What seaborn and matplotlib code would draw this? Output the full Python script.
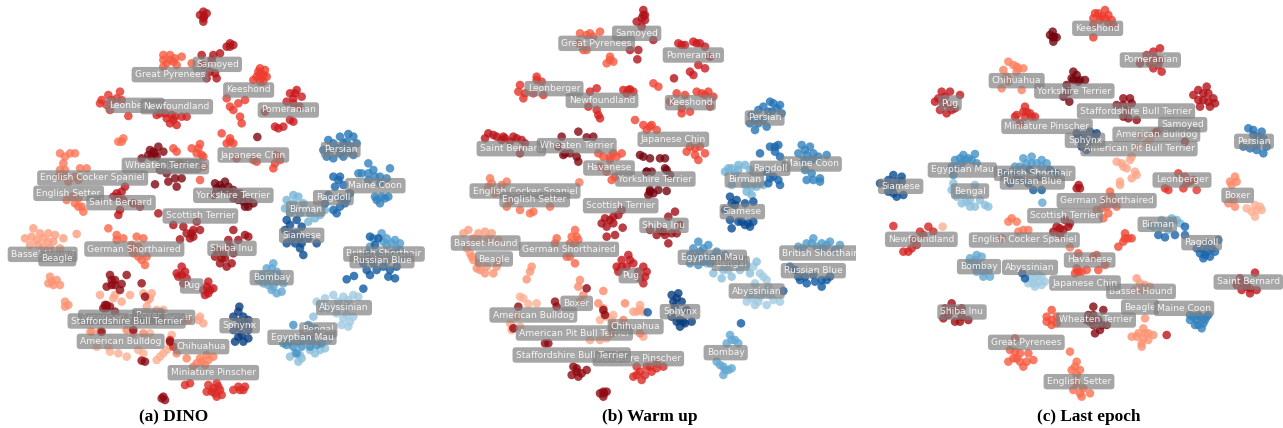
#!/usr/bin/env python3
"""t-SNE maps of the pet breeds for DINO, warm up and the last epoch."""

import matplotlib.pyplot as plt
import pandas as pd
import seaborn as sns

CATS = ["Abyssinian", "Bengal", "Birman", "Bombay", "British Shorthair", "Egyptian Mau",
        "Maine Coon", "Persian", "Ragdoll", "Russian Blue", "Siamese", "Sphynx"]
DOGS = ["American Bulldog", "American Pit Bull Terrier", "Basset Hound", "Beagle", "Boxer",
        "Chihuahua", "English Cocker Spaniel", "English Setter", "German Shorthaired",
        "Great Pyrenees", "Havanese", "Japanese Chin", "Keeshond", "Leonberger",
        "Miniature Pinscher", "Newfoundland", "Pomeranian", "Pug", "Saint Bernard", "Samoyed",
        "Scottish Terrier", "Shiba Inu", "Staffordshire Bull Terrier", "Wheaten Terrier",
        "Yorkshire Terrier"]
BREEDS = sorted(CATS + DOGS)
CAPTIONS = ["(a) DINO", "(b) Warm up", "(c) Last epoch"]

# label centres, same order as BREEDS
A_LABEL_X = [1032, 362, 410, 128, 172, 955, 917, 815, 445, 1152, 604, 906, 278, 206, 403, 510, 550, 760, 746,
             405, 1126, 640, 530, 1022, 865, 575, 1000, 1146, 363, 652, 601, 696, 905, 719, 380, 485, 700]
A_LABEL_Y = [923, 1024, 952, 763, 776, 990, 627, 833, 947, 762, 1040, 1012, 534, 580, 747, 224, 500, 465, 270,
             316, 557, 1118, 320, 449, 330, 858, 593, 782, 608, 193, 648, 745, 706, 977, 963, 496, 586]
B_LABEL_X = [980, 310, 433, 167, 192, 902, 943, 887, 440, 1170, 617, 847, 285, 314, 417, 500, 537, 730, 781,
             372, 1145, 625, 516, 1004, 790, 601, 1020, 1150, 244, 620, 572, 702, 937, 750, 425, 440, 676]
B_LABEL_Y = [873, 945, 999, 729, 777, 790, 540, 1058, 910, 759, 980, 772, 573, 599, 748, 130, 504, 418, 308,
             266, 492, 1076, 301, 354, 165, 827, 505, 812, 446, 100, 617, 676, 635, 935, 1065, 437, 537]
C_LABEL_X = [510, 889, 837, 843, 840, 330, 892, 357, 1133, 524, 470, 307, 493, 657, 740, 499, 689, 675, 713,
             966, 972, 561, 184, 1182, 871, 270, 1025, 517, 1165, 968, 615, 306, 122, 675, 828, 708, 643]
C_LABEL_Y = [802, 403, 446, 874, 921, 573, 673, 800, 586, 520, 242, 510, 720, 1145, 602, 1027, 780, 849, 85,
             540, 925, 379, 718, 424, 180, 309, 728, 546, 846, 374, 647, 936, 559, 421, 333, 960, 273]

# embedding values, panel (a)
A_ABYSSINIAN = [(950, 905), (975, 895), (1000, 885), (1030, 890), (1060, 885), (1075, 890), (1010, 940), (1030, 955), (1050, 965), (1060, 950), (1025, 975), (1045, 980), (985, 925), (1040, 920), (1015, 905), (1045, 900), (965, 925), (1040, 945)]
A_BENGAL = [(870, 1070), (895, 1085), (900, 1065), (930, 1050), (960, 1050), (975, 1045), (985, 1020), (940, 950), (905, 1075), (885, 1060), (945, 1060)]
A_EGYPTIAN_MAU = [(860, 1035), (880, 1040), (905, 1040), (930, 1040), (950, 1035), (890, 1060), (850, 1030), (915, 1020), (945, 985), (925, 975), (880, 975), (870, 1025), (895, 1025), (935, 1020), (965, 1030)]
A_BOMBAY = [(820, 790), (800, 805), (830, 815), (785, 825), (810, 830), (840, 830), (790, 850), (820, 860), (845, 875), (815, 870), (830, 880), (850, 850), (775, 840), (815, 805), (800, 840), (830, 845), (805, 855)]
A_BIRMAN = [(880, 585), (860, 600), (895, 590), (910, 610), (855, 625), (870, 640), (900, 640), (925, 665), (945, 655), (960, 645), (930, 640), (975, 630), (880, 610), (880, 630)]
A_SIAMESE = [(860, 660), (870, 675), (890, 660), (905, 680), (860, 730), (885, 730), (900, 745), (910, 765), (950, 730), (925, 715), (890, 700), (855, 690), (875, 700), (900, 715), (875, 715), (905, 730)]
A_RAGDOLL = [(1000, 530), (1020, 530), (1005, 560), (1030, 555), (985, 585), (1020, 620), (1000, 630), (1040, 600), (1010, 640), (975, 610), (1050, 580), (1035, 610), (1020, 595), (1015, 540)]
A_MAINE_COON = [(1105, 490), (1085, 520), (1120, 510), (1140, 530), (1170, 505), (1160, 535), (1105, 540), (1140, 550), (1075, 520), (1130, 600), (1155, 595), (1165, 590), (1140, 610), (1125, 590), (1105, 520), (1125, 530), (1145, 590)]
A_PERSIAN = [(1020, 410), (1045, 402), (985, 420), (1000, 430), (1030, 430), (1060, 410), (1040, 425), (980, 470), (1000, 475), (1030, 470), (1060, 465), (1070, 430), (1015, 445), (970, 450), (1045, 455), (990, 450), (1020, 460), (1050, 440)]
A_BRITISH_SHORTHAIR = [(1145, 700), (1160, 715), (1185, 720), (1200, 730), (1160, 735), (1120, 715), (1190, 745), (1175, 760), (1110, 740), (1140, 760), (1175, 730), (1150, 725), (1200, 750), (1160, 785)]
A_RUSSIAN_BLUE = [(1110, 710), (1125, 735), (1105, 760), (1090, 790), (1110, 825), (1130, 810), (1165, 830), (1185, 835), (1190, 800), (1100, 810), (1040, 838), (1062, 828), (1090, 866), (1150, 800), (1120, 790), (1170, 810), (1135, 715)]
A_SPHYNX = [(718, 920), (715, 935), (700, 950), (730, 950), (715, 965), (745, 960), (700, 990), (725, 1005), (745, 1015), (730, 1025), (705, 1025), (745, 990), (720, 985), (735, 970), (715, 1010)]
A_CHIHUAHUA = [(530, 1060), (560, 1075), (600, 1075), (620, 1065), (590, 1090), (615, 1095), (640, 1070), (580, 1100), (605, 1085), (625, 1080)]
A_MINIATURE_PINSCHER = [(625, 1155), (650, 1150), (635, 1175), (660, 1170), (620, 1175), (665, 1185), (650, 1190), (715, 1160), (730, 1170), (700, 1170), (735, 1160), (640, 1165), (555, 1155), (570, 1150), (510, 1020), (520, 1040), (645, 1180), (655, 1160), (720, 1170)]
A_PUG = [(545, 800), (555, 815), (535, 830), (560, 835), (530, 820), (550, 850), (620, 860), (625, 880), (640, 865), (610, 870), (625, 845), (615, 885), (545, 825), (630, 870)]
A_SHIBA_INU = [(700, 690), (735, 705), (715, 720), (690, 740), (700, 760), (670, 760), (645, 770), (660, 790), (680, 800), (695, 790), (745, 710), (675, 775), (650, 750), (665, 775), (685, 720)]
A_SCOTTISH_TERRIER = [(475, 640), (520, 675), (550, 680), (580, 690), (570, 715), (540, 718), (590, 665), (560, 700), (580, 710), (600, 690), (575, 700)]
A_SAINT_BERNARD = [(350, 580), (365, 575), (370, 600), (340, 590), (355, 645), (360, 630), (400, 610), (420, 620), (375, 560), (355, 590)]
A_ENGLISH_SETTER = [(200, 600), (225, 610), (245, 620), (250, 635), (215, 590), (235, 595), (365, 425), (355, 425), (370, 415), (235, 620)]
A_ENGLISH_COCKER_SPANIEL = [(180, 460), (210, 460), (190, 490), (240, 505), (180, 510), (260, 505), (225, 460), (175, 530), (205, 545), (225, 530), (195, 470), (235, 540), (195, 510), (190, 525)]
A_BASSET_HOUND = [(100, 685), (75, 715), (120, 700), (145, 700), (110, 720), (160, 725), (130, 740), (190, 715), (230, 702), (90, 735), (150, 745), (180, 745), (165, 705), (130, 715), (95, 710), (145, 725), (115, 735)]
A_BEAGLE = [(150, 830), (160, 855), (180, 855), (145, 850), (170, 840), (195, 905), (205, 915), (195, 920), (155, 845)]
A_GERMAN_SHORTHAIRED = [(350, 705), (350, 720), (325, 685), (410, 710), (430, 715), (395, 735), (415, 770), (440, 770), (400, 760), (435, 795), (425, 780), (370, 715), (415, 740), (395, 750)]
A_GREAT_PYRENEES = [(490, 165), (510, 165), (525, 175), (500, 190), (530, 195), (520, 185), (575, 190), (490, 200), (545, 170), (510, 180), (490, 180)]
A_SAMOYED = [(610, 35), (612, 50), (600, 45), (620, 40), (610, 65), (690, 130), (680, 140), (700, 135), (605, 165), (640, 165), (660, 160), (635, 180), (610, 195), (645, 220), (620, 235), (650, 235), (690, 140), (610, 55), (630, 215)]
A_KEESHOND = [(780, 205), (790, 225), (770, 230), (800, 230), (780, 245), (760, 240), (795, 210), (680, 295), (690, 320), (715, 310), (735, 300), (700, 330), (720, 350), (725, 370), (780, 225), (775, 215), (790, 245)]
A_POMERANIAN = [(890, 270), (870, 280), (905, 290), (880, 295), (860, 305), (900, 320), (880, 365), (870, 360), (835, 385), (825, 380), (850, 380), (795, 335), (885, 280), (880, 310)]
A_LEONBERGER = [(305, 300), (325, 285), (360, 275), (300, 310), (335, 300), (365, 300), (330, 330), (385, 348), (350, 295), (320, 315)]
A_NEWFOUNDLAND = [(470, 345), (500, 355), (520, 360), (545, 350), (530, 375), (510, 370), (560, 350), (480, 340), (515, 345), (495, 340), (525, 350)]
A_JAPANESE_CHIN = [(665, 400), (690, 425), (700, 430), (680, 430), (770, 485), (830, 465), (820, 505), (840, 480), (710, 475), (760, 480), (825, 490), (690, 415)]
A_HAVANESE = [(520, 445), (600, 432), (605, 465), (590, 460), (575, 445), (610, 470), (540, 490), (610, 500), (600, 540), (530, 455), (595, 445)]
A_WHEATEN_TERRIER = [(460, 455), (475, 440), (445, 465), (490, 455), (470, 470), (425, 475), (455, 470), (500, 520), (525, 535), (545, 535), (505, 545), (530, 560), (465, 553), (480, 510), (772, 411), (465, 460), (450, 450)]
A_YORKSHIRE_TERRIER = [(660, 555), (645, 550), (675, 545), (685, 560), (650, 565), (700, 570), (720, 580), (745, 600), (760, 610), (735, 620), (700, 595), (670, 570), (745, 620), (715, 600), (690, 575), (640, 585), (665, 565), (730, 605)]
A_STAFFORDSHIRE_BULL_TERRIER = [(330, 825), (345, 840), (320, 860), (365, 852), (335, 855), (360, 870), (315, 915), (330, 920), (310, 925), (380, 825), (320, 925), (425, 850), (435, 890), (345, 935), (490, 1190), (495, 1200), (485, 1195), (435, 1085), (425, 1082), (510, 1025), (400, 990), (305, 995), (335, 840), (320, 915), (345, 855)]
A_AMERICAN_BULLDOG = [(270, 995), (330, 1055), (355, 1060), (380, 1070), (290, 1040), (430, 1060), (470, 1080), (490, 1060), (510, 1040), (515, 1005), (450, 1000), (415, 1050), (480, 1070), (500, 1050), (325, 1040)]
A_AMERICAN_PIT_BULL_TERRIER = [(430, 880), (455, 880), (445, 900), (440, 920), (470, 930), (490, 930), (600, 950), (610, 970), (595, 960), (345, 885), (390, 885), (365, 905), (340, 895), (300, 885), (450, 895), (480, 945)]
A_BOXER = [(425, 960), (470, 960), (380, 990), (400, 1000), (300, 995), (275, 995), (430, 1000), (565, 960)]

# panel (b)
B_ABYSSINIAN = [(970, 800), (990, 820), (975, 850), (1010, 840), (1015, 860), (960, 880), (985, 905), (1010, 915), (1030, 900), (950, 905), (975, 915), (1000, 880), (1050, 905), (990, 890), (1020, 885), (965, 895), (1000, 830)]
B_BENGAL = [(850, 820), (875, 835), (905, 830), (880, 810), (930, 810), (950, 795), (980, 785), (830, 790), (960, 820), (920, 790), (895, 810)]
B_EGYPTIAN_MAU = [(805, 725), (790, 745), (820, 745), (835, 735), (800, 770), (780, 790), (805, 795), (840, 790), (860, 755), (885, 765), (780, 765), (830, 770), (810, 755), (820, 785), (850, 770)]
B_BIRMAN = [(895, 505), (925, 495), (945, 495), (885, 515), (915, 520), (960, 510), (980, 560), (950, 575), (965, 585), (1000, 555), (945, 555), (905, 555), (905, 505), (965, 560), (925, 510)]
B_RAGDOLL = [(1020, 440), (1045, 435), (990, 460), (1035, 455), (1050, 470), (1010, 515), (1045, 540), (1030, 530), (1050, 555), (1015, 550), (1035, 440), (1020, 535)]
B_MAINE_COON = [(1115, 435), (1140, 440), (1105, 460), (1130, 465), (1165, 470), (1190, 465), (1145, 480), (1130, 540), (1150, 540), (1170, 535), (1145, 520), (1170, 545), (1125, 510), (1125, 450), (1150, 460), (1120, 480)]
B_PERSIAN = [(1020, 305), (1000, 320), (1040, 325), (1055, 340), (985, 330), (1015, 335), (1050, 315), (960, 370), (975, 390), (985, 370), (1010, 380), (965, 345), (1030, 310), (1025, 335), (975, 360), (1000, 360)]
B_SIAMESE = [(900, 590), (920, 600), (905, 610), (970, 605), (945, 610), (900, 660), (925, 665), (960, 680), (905, 685), (945, 675), (970, 665), (885, 630), (915, 615), (935, 665), (955, 670)]
B_BOMBAY = [(900, 1005), (915, 1020), (925, 1030), (890, 1030), (860, 1085), (880, 1100), (895, 1110), (905, 1105), (880, 1125), (870, 1095), (905, 1020), (885, 1110)]
B_BRITISH_SHORTHAIR = [(1150, 715), (1130, 730), (1175, 730), (1200, 725), (1230, 735), (1105, 740), (1160, 740), (1215, 750), (1190, 735), (1145, 730), (1180, 745), (1120, 745)]
B_RUSSIAN_BLUE = [(1095, 810), (1110, 840), (1130, 850), (1155, 845), (1175, 860), (1200, 830), (1080, 800), (1175, 840), (1125, 830), (933, 970), (1060, 873), (653, 937), (1105, 830), (1190, 840), (1150, 825)]
B_SPHYNX = [(725, 885), (745, 880), (730, 905), (755, 905), (735, 920), (750, 960), (725, 950), (765, 970), (785, 965), (750, 980), (770, 930), (740, 895), (760, 965), (740, 965)]
B_PUG = [(595, 765), (575, 780), (610, 790), (560, 800), (590, 800), (640, 800), (650, 815), (630, 835), (645, 830), (565, 815), (640, 850), (600, 780), (625, 815), (575, 800)]
B_SHIBA_INU = [(735, 635), (715, 650), (750, 675), (660, 690), (700, 695), (725, 700), (680, 705), (715, 730), (690, 690), (740, 700), (705, 705)]
B_SCOTTISH_TERRIER = [(525, 655), (550, 650), (575, 630), (515, 670), (550, 670), (530, 680), (578, 683), (555, 705), (530, 710), (540, 660), (565, 645)]
B_YORKSHIRE_TERRIER = [(705, 505), (630, 465), (640, 470), (660, 475), (690, 475), (705, 475), (650, 515), (710, 510), (660, 570), (670, 580), (685, 570), (710, 573), (655, 585), (720, 525), (660, 575), (650, 515), (665, 515)]
B_WHEATEN_TERRIER = [(395, 410), (445, 395), (385, 440), (400, 465), (445, 485), (470, 412), (490, 410), (420, 460), (440, 470), (405, 460)]
B_HAVANESE = [(540, 470), (560, 470), (520, 470), (575, 460), (510, 500), (545, 540), (540, 480), (505, 460), (530, 515), (555, 530), (550, 460)]
B_JAPANESE_CHIN = [(615, 360), (640, 375), (665, 375), (680, 390), (650, 390), (770, 455), (795, 465), (810, 440), (780, 440), (825, 460), (805, 480), (670, 250), (685, 260), (660, 380), (795, 445)]
B_KEESHOND = [(740, 280), (765, 285), (815, 280), (835, 275), (850, 290), (720, 305), (755, 340), (780, 335), (840, 320), (800, 275), (825, 285), (755, 325)]
B_POMERANIAN = [(745, 130), (765, 135), (790, 125), (810, 130), (825, 140), (780, 215), (790, 225), (805, 195), (825, 205), (840, 170), (755, 135), (800, 130)]
B_LEONBERGER = [(320, 230), (270, 255), (285, 280), (265, 275), (335, 245), (310, 280), (340, 285), (280, 295), (320, 240)]
B_NEWFOUNDLAND = [(500, 265), (480, 275), (580, 270), (600, 268), (610, 275), (590, 280), (505, 345), (510, 355), (475, 320), (500, 330), (595, 270)]
B_GREAT_PYRENEES = [(450, 100), (480, 100), (510, 95), (445, 130), (470, 150), (540, 170), (530, 190), (550, 185), (490, 110), (460, 150), (540, 180), (470, 105)]
B_SAMOYED = [(640, 30), (645, 45), (635, 55), (645, 60), (620, 65), (600, 150), (625, 150), (670, 120), (622, 178), (635, 80), (732, 235), (640, 45)]
B_SAINT_BERNARD = [(175, 400), (165, 415), (200, 410), (225, 415), (250, 410), (275, 420), (285, 430), (190, 405), (240, 425), (270, 460), (220, 410), (215, 420), (260, 415)]
B_ENGLISH_COCKER_SPANIEL = [(180, 535), (185, 550), (215, 555), (195, 580), (448, 547), (175, 560), (230, 545)]
B_ENGLISH_SETTER = [(230, 620), (270, 630), (310, 635), (360, 620), (300, 640), (240, 605)]
B_GERMAN_SHORTHAIRED = [(435, 690), (440, 710), (380, 715), (420, 730), (410, 770), (435, 790), (375, 730), (425, 710), (445, 720), (420, 770), (435, 730)]
B_BASSET_HOUND = [(115, 690), (100, 700), (165, 695), (130, 715), (175, 715), (145, 700), (205, 720), (120, 760), (110, 745), (150, 720), (185, 700)]
B_BEAGLE = [(130, 780), (150, 810), (200, 800), (165, 820), (190, 820), (125, 770), (145, 790), (205, 785), (305, 800), (300, 815), (290, 838), (140, 805), (170, 800)]
B_BOXER = [(450, 840), (445, 860), (460, 885), (450, 905), (505, 910), (520, 925), (520, 873), (585, 910)]
B_AMERICAN_BULLDOG = [(270, 890), (280, 895), (295, 912), (320, 910), (245, 975), (260, 950), (240, 970), (510, 960), (530, 950), (550, 945), (545, 960), (520, 935)]
B_AMERICAN_PIT_BULL_TERRIER = [(245, 990), (270, 980), (530, 1015), (510, 1020), (640, 1010), (480, 1020), (630, 915), (620, 935), (640, 935), (610, 935), (630, 930)]
B_STAFFORDSHIRE_BULL_TERRIER = [(265, 920), (250, 985), (345, 1030), (355, 1030), (440, 1105), (425, 1125), (455, 1120), (430, 1100), (470, 1110), (445, 1130), (520, 1175), (530, 1175), (520, 1190), (510, 1180), (375, 905), (380, 920), (470, 865), (520, 930), (525, 945), (440, 1115), (522, 1180)]
B_MINIATURE_PINSCHER = [(620, 1100), (650, 1100), (680, 1090), (610, 1130), (635, 1140), (700, 1100), (630, 1115), (665, 1115), (645, 1125), (660, 1100), (620, 1125), (680, 1105)]
B_CHIHUAHUA = [(550, 975), (630, 1000), (545, 1000), (580, 960)]

# panel (c)
C_ABYSSINIAN = [(505, 850), (525, 860), (545, 830), (555, 845), (525, 835), (520, 850), (545, 855), (515, 820), (535, 845), (510, 835), (535, 825)]
C_BENGAL = [(275, 570), (290, 590), (305, 610), (330, 620), (345, 620), (375, 615), (385, 620), (345, 555), (330, 600), (280, 550), (310, 585), (360, 600), (320, 605)]
C_EGYPTIAN_MAU = [(285, 480), (310, 465), (345, 462), (325, 475), (290, 500), (305, 490), (335, 480), (275, 500), (350, 490), (315, 480), (300, 475), (280, 525)]
C_BIRMAN = [(880, 680), (935, 655), (950, 660), (925, 690), (905, 660), (870, 675), (960, 670), (925, 670), (900, 680)]
C_RAGDOLL = [(1040, 730), (1020, 760), (1050, 770), (1030, 775), (1065, 755), (1040, 755), (1010, 745), (1075, 720), (975, 680), (945, 705), (915, 712), (895, 705), (975, 705), (1055, 745), (1035, 765), (1025, 745)]
C_BOMBAY = [(350, 765), (330, 775), (365, 770), (325, 790), (350, 815), (370, 830), (390, 830), (360, 795), (385, 810), (547, 608), (345, 780), (345, 800), (370, 815)]
C_BRITISH_SHORTHAIR = [(490, 475), (515, 470), (545, 480), (465, 500), (500, 490), (560, 490), (455, 515), (480, 500), (530, 490), (515, 490), (490, 505), (545, 500)]
C_RUSSIAN_BLUE = [(430, 520), (520, 570), (545, 570), (450, 550), (480, 540), (570, 510), (590, 520), (510, 510), (487, 820), (495, 835), (470, 525), (540, 530), (505, 550)]
C_PERSIAN = [(1165, 385), (1180, 390), (1205, 395), (1150, 440), (1190, 450), (1210, 460), (1220, 440), (1170, 445), (1195, 410), (1180, 405), (1210, 415), (1190, 435)]
C_SIAMESE = [(100, 525), (125, 530), (85, 540), (60, 550), (110, 590), (130, 585), (85, 575), (100, 560), (125, 545), (85, 555), (110, 545), (100, 580)]
C_MAINE_COON = [(990, 960), (1015, 975), (1035, 960), (1000, 950), (1020, 950), (1025, 985), (1045, 945), (990, 945), (1010, 960), (1005, 975), (1030, 970), (1040, 950), (1015, 945)]
C_SPHYNX = [(650, 400), (690, 395), (665, 440), (705, 410), (655, 410), (680, 450), (710, 400), (670, 405), (685, 425), (665, 425)]
C_KEESHOND = [(705, 40), (735, 30), (755, 60), (700, 55), (725, 50), (745, 45), (700, 112), (720, 60), (760, 75), (715, 40), (735, 55), (745, 70), (700, 75)]
C_POMERANIAN = [(900, 145), (880, 155), (860, 165), (840, 190), (880, 205), (905, 215), (895, 195), (870, 190), (885, 175), (900, 180)]
C_YORKSHIRE_TERRIER = [(640, 215), (650, 225), (635, 235), (660, 240), (620, 255), (675, 240), (610, 290), (628, 305), (655, 245), (578, 95), (582, 110), (570, 105), (580, 125), (590, 112), (640, 240), (625, 275), (578, 112)]
C_CHIHUAHUA = [(445, 185), (470, 200), (490, 205), (430, 210), (470, 215), (425, 265), (445, 245), (485, 270), (440, 230), (460, 195), (475, 205)]
C_PUG = [(245, 275), (270, 275), (300, 285), (225, 305), (240, 330), (260, 340), (285, 325), (235, 295), (265, 315), (250, 310), (255, 290), (275, 330)]
C_MINIATURE_PINSCHER = [(495, 320), (500, 335), (470, 345), (515, 350), (525, 350), (480, 370), (495, 350), (465, 350), (490, 335), (510, 340)]
C_SAMOYED = [(1040, 260), (1015, 270), (1000, 285), (1060, 295), (1030, 300), (1020, 320), (1050, 320), (1065, 310), (1045, 280), (890, 395), (975, 425), (1030, 280), (1015, 300), (1045, 305)]
C_STAFFORDSHIRE_BULL_TERRIER = [(790, 295), (815, 310), (770, 315), (800, 330), (830, 360), (790, 350), (805, 355), (790, 315), (810, 295)]
C_AMERICAN_BULLDOG = [(840, 405), (860, 430), (880, 400), (830, 440), (900, 395), (870, 420), (1185, 615), (1160, 625), (1185, 650), (1205, 630), (1175, 635), (1200, 620), (248, 680), (1190, 630)]
C_AMERICAN_PIT_BULL_TERRIER = [(785, 490), (800, 505), (770, 485), (810, 480), (815, 470), (790, 500), (825, 515), (830, 525), (815, 535), (780, 545), (780, 555)]
C_LEONBERGER = [(915, 565), (955, 520), (975, 530), (990, 545), (1010, 570), (970, 565), (1000, 540), (925, 570), (980, 550)]
C_BOXER = [(1125, 530), (1110, 545), (1115, 555), (1120, 600), (1125, 620), (1105, 610), (1130, 545)]
C_GERMAN_SHORTHAIRED = [(750, 575), (735, 600), (760, 610), (725, 625), (745, 640), (730, 655), (710, 630), (755, 590), (770, 620), (740, 620)]
C_SCOTTISH_TERRIER = [(590, 680), (610, 690), (630, 670), (600, 705), (580, 695), (625, 680), (615, 660), (656, 555), (660, 565), (650, 565), (600, 685)]
C_ENGLISH_COCKER_SPANIEL = [(455, 655), (445, 665), (470, 665), (490, 690), (505, 690), (475, 695), (425, 715), (630, 742)]
C_JAPANESE_CHIN = [(795, 700), (805, 715), (790, 725), (775, 740), (815, 715), (655, 815), (645, 820), (795, 715)]
C_HAVANESE = [(655, 760), (710, 765), (650, 805), (680, 810), (715, 810), (735, 795), (700, 770), (575, 930), (560, 950), (590, 950), (575, 975), (560, 965), (590, 970), (575, 960), (665, 815)]
C_BASSET_HOUND = [(830, 835), (840, 850), (855, 855), (870, 860), (825, 870), (850, 870)]
C_BEAGLE = [(855, 955), (850, 985), (830, 1010), (865, 1020), (845, 1030), (880, 1005), (815, 1010), (855, 1000), (845, 1040), (835, 1000), (850, 1015), (865, 1000)]
C_WHEATEN_TERRIER = [(700, 920), (685, 945), (730, 930), (700, 975), (720, 990), (740, 975), (690, 965), (680, 960), (715, 960), (705, 1000), (700, 945), (725, 975), (700, 960)]
C_NEWFOUNDLAND = [(205, 680), (180, 695), (160, 720), (220, 695), (145, 755), (130, 755), (155, 745), (100, 678), (190, 705), (170, 735)]
C_SHIBA_INU = [(275, 910), (255, 925), (305, 925), (250, 955), (285, 965), (325, 960), (300, 965), (265, 945), (285, 930), (305, 950)]
C_SAINT_BERNARD = [(1185, 818), (1140, 835), (1145, 870), (1170, 880), (1190, 870), (1160, 860), (1130, 855), (920, 1005), (1170, 865), (1150, 850)]
C_GREAT_PYRENEES = [(465, 1015), (450, 1050), (470, 1075), (490, 1100), (480, 1060), (505, 1060), (520, 1080), (445, 1085), (500, 1085), (465, 1055), (480, 1085), (460, 1075)]
C_ENGLISH_SETTER = [(650, 1085), (635, 1110), (660, 1110), (650, 1125), (640, 1170), (665, 1190), (690, 1180), (670, 1165), (650, 1150), (630, 1055), (660, 1180), (645, 1100)]

LABELS = {"A": (A_LABEL_X, A_LABEL_Y), "B": (B_LABEL_X, B_LABEL_Y), "C": (C_LABEL_X, C_LABEL_Y)}


def breed_palette():
    reds = sns.color_palette("Reds", 34)[9:]
    blues = sns.color_palette("Blues", 18)[6:]
    palette = dict(zip(DOGS, reds))
    palette.update(zip(CATS, blues))
    return palette


def panel_frame(panel):
    rows = []
    for breed in BREEDS:
        key = f"{panel}_" + breed.upper().replace(" ", "_")
        for x, y in globals().get(key, []):
            rows.append((x, y, breed))
    return pd.DataFrame(rows, columns=["x", "y", "breed"])


def draw_panel(ax, panel, caption, palette):
    df = panel_frame(panel)
    sns.scatterplot(data=df, x="x", y="y", hue="breed", palette=palette, s=38, alpha=0.8,
                    linewidth=0, legend=False, ax=ax)
    label_x, label_y = LABELS[panel]
    for name, x, y in zip(BREEDS, label_x, label_y):
        ax.text(x, y, name, fontsize=6.6, color="white", alpha=0.9, ha="center", va="center", clip_on=True,
                bbox=dict(boxstyle="round,pad=0.35", facecolor="gray", edgecolor="none", alpha=0.7))
    ax.set_xlim(0, 1278)
    ax.set_ylim(1284, 0)
    ax.axis("off")
    ax.text(caption[1], 1252, caption[0], fontsize=12.4, fontweight="bold", family="Liberation Serif",
            color="black", ha="center", va="center")


def main():
    sns.set_theme(style="white")
    fig = plt.figure(figsize=(12.83, 4.28), dpi=100)
    palette = breed_palette()
    lefts = [0, 430, 860]
    centers = [520, 660, 687]
    for panel, left, center, caption in zip("ABC", lefts, centers, CAPTIONS):
        ax = fig.add_axes([left / 1283, 0, 426 / 1283, 1])
        draw_panel(ax, panel, (caption, center), palette)
    fig.savefig("out.png", dpi=100)


if __name__ == "__main__":
    main()
